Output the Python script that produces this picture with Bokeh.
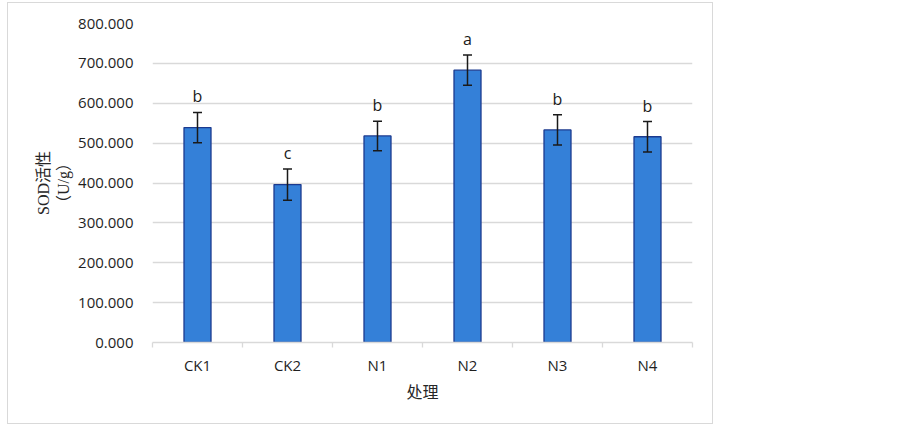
from bokeh.plotting import figure
from bokeh.models import ColumnDataSource, FixedTicker, Range1d, Whisker
from bokeh.embed import file_html
from bokeh.resources import INLINE
from bokeh.core.properties import value

categories = ["CK1", "CK2", "N1", "N2", "N3", "N4"]
sod = [539, 396, 518, 683, 533, 516]
err = [38, 39, 37, 38, 38, 38]
letters = ["b", "c", "b", "a", "b", "b"]
y_ticks = [0, 100, 200, 300, 400, 500, 600, 700, 800]

xs = [i + 0.5 for i in range(len(categories))]
src = ColumnDataSource(dict(
    x=xs, top=sod,
    upper=[v + e for v, e in zip(sod, err)],
    lower=[v - e for v, e in zip(sod, err)],
    letter=letters,
))

p = figure(width=706, height=422, output_backend="svg", toolbar_location=None,
           x_range=Range1d(0, len(categories)), y_range=Range1d(0, 800),
           min_border_left=144, min_border_right=22, min_border_top=20, min_border_bottom=83)
p.styles = {"border": "1px solid #d9d9d9", "margin-left": "7px", "margin-top": "2px"}
p.outline_line_color = None

p.ygrid.ticker = FixedTicker(ticks=y_ticks)
p.ygrid.grid_line_color = "#d9d9d9"
p.ygrid.grid_line_width = 1.3
p.xgrid.grid_line_color = None

p.vbar(x="x", top="top", width=0.3, bottom=0, source=src,
       fill_color="#3480d8", line_color="#1b3a8f", line_width=1.3)

w = Whisker(base="x", upper="upper", lower="lower", source=src,
            line_color="#1a1a1a", line_width=1.5, level="overlay")
w.upper_head.size = 9
w.lower_head.size = 9
w.upper_head.line_color = "#1a1a1a"
w.lower_head.line_color = "#1a1a1a"
w.upper_head.line_width = 1.5
w.lower_head.line_width = 1.5
p.add_layout(w)

p.text(x="x", y="upper", text="letter", source=src, text_align="center",
       text_baseline="bottom", y_offset=-5, text_font=value("Open Sans"),
       text_font_size="16px", text_color="#1a1a1a")

# y axis
p.yaxis.ticker = FixedTicker(ticks=y_ticks)
p.yaxis.major_label_overrides = {t: f"{t:.3f}" for t in y_ticks}
p.yaxis.axis_line_color = None
p.yaxis.major_tick_line_color = None
p.yaxis.minor_tick_line_color = None
p.yaxis.major_label_text_font = "Open Sans"
p.yaxis.major_label_text_font_size = "15px"
p.yaxis.major_label_text_color = "#1f1f1f"
p.yaxis.major_label_standoff = 13
p.yaxis.axis_label = "SOD活性\n（U/g）"
p.yaxis.axis_label_text_font = "Liberation Serif, Noto Sans CJK SC"
p.yaxis.axis_label_text_font_style = "normal"
p.yaxis.axis_label_text_font_size = "16px"
p.yaxis.axis_label_text_color = "#262626"
p.yaxis.axis_label_standoff = 3

# x axis
p.xaxis.ticker = FixedTicker(ticks=xs, minor_ticks=list(range(len(categories) + 1)))
p.xaxis.major_label_overrides = {x: c for x, c in zip(xs, categories)}
p.xaxis.axis_line_color = "#d9d9d9"
p.xaxis.axis_line_width = 1.3
p.xaxis.major_tick_line_color = None
p.xaxis.minor_tick_line_color = "#d9d9d9"
p.xaxis.minor_tick_line_width = 1.3
p.xaxis.minor_tick_in = 0
p.xaxis.minor_tick_out = 5
p.xaxis.major_label_text_font = "Open Sans"
p.xaxis.major_label_text_font_size = "15px"
p.xaxis.major_label_text_color = "#1f1f1f"
p.xaxis.major_label_standoff = 6
p.xaxis.axis_label = "处理"
p.xaxis.axis_label_text_font = "Noto Sans CJK SC"
p.xaxis.axis_label_text_font_style = "normal"
p.xaxis.axis_label_text_font_size = "16px"
p.xaxis.axis_label_text_color = "#262626"
p.xaxis.axis_label_standoff = 1

open("out.html", "w").write(file_html(p, INLINE))
